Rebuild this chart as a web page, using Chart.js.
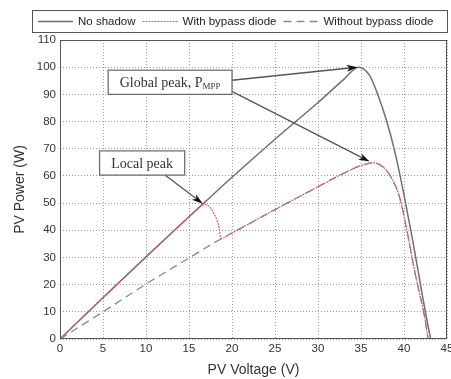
<!DOCTYPE html>
<html>
<head>
<meta charset="utf-8">
<script src="https://cdn.jsdelivr.net/npm/chart.js@4.4.0/dist/chart.umd.min.js"></script>
<style>
  html, body { margin: 0; padding: 0; background: #fff; }
</style>
</head>
<body>
<canvas id="pv" width="451" height="379"></canvas>
<script>
// P-V curves (voltage in V, power in W)
var noShadowV = [0, 5, 10, 15, 17, 20, 25, 30, 33, 34.7, 36, 37, 38, 39, 40, 41, 42, 42.6, 43.1];
var noShadowP = [0, 15.2, 30.2, 45, 50.8, 59.5, 73.5, 87, 95.5, 100, 97, 89.5, 80, 68, 53, 36.5, 18.5, 8, 0];

var bypassV = [0, 5, 10, 15, 16, 16.7, 17.4, 18, 18.5, 18.7, 20, 25, 30, 33, 35, 36.5, 37.5, 38.5, 39.5, 40.3, 41.3, 42.4, 42.8];
var bypassP = [0, 15.3, 30.2, 45, 47.8, 49.5, 48.6, 45.5, 41, 37, 39, 47.6, 56, 61, 63.8, 64.8, 63.5, 59.5, 52, 40.5, 24, 8, 0];

var noBypassV = [0, 5, 10, 15, 18.7, 20, 25, 30, 33, 35, 36.5, 37.5, 38.5, 39.5, 40.3, 41.3, 42.4, 42.8];
var noBypassP = [0, 10, 20.2, 29.8, 36.8, 39, 47.6, 56, 61, 63.8, 64.8, 63.5, 59.5, 52, 40.5, 24, 8, 0];

var seriesNames = ['No shadow', 'With bypass diode', 'Without bypass diode'];

// annotation boxes and arrows, in data units
var labelBoxes = [
    {text: 'Global peak, P', sub: 'MPP', x0: 5.6, y0: 98.9, x1: 20, y1: 90},
    {text: 'Local peak', sub: '', x0: 4.6, y0: 69.2, x1: 14.5, y1: 60.3}
];
var arrows = [
    {from: [12.2, 60.3], to: [16.6, 49.8]},
    {from: [20, 95.2], to: [34.6, 100]},
    {from: [20.1, 90.9], to: [36, 65.3]}
];

function pairs(xs, ys) {
    return xs.map(function (x, i) { return {x: x, y: ys[i]}; });
}

var framePlugin = {
    id: 'frames',
    afterDatasetsDraw: function (chart) {
        var ctx = chart.ctx, xs = chart.scales.x, ys = chart.scales.y, a = chart.chartArea;
        ctx.save();
        // plot box
        ctx.strokeStyle = '#555';
        ctx.lineWidth = 1;
        ctx.strokeRect(a.left + 0.5, a.top + 0.5, a.right - a.left - 1, a.bottom - a.top - 1);

        // arrows
        arrows.forEach(function (ar) {
            var x1 = xs.getPixelForValue(ar.from[0]), y1 = ys.getPixelForValue(ar.from[1]);
            var x2 = xs.getPixelForValue(ar.to[0]), y2 = ys.getPixelForValue(ar.to[1]);
            var c = Math.cos(Math.atan2(y2 - y1, x2 - x1)), s = Math.sin(Math.atan2(y2 - y1, x2 - x1));
            ctx.strokeStyle = '#555';
            ctx.lineWidth = 1.3;
            ctx.beginPath();
            ctx.moveTo(x1, y1);
            ctx.lineTo(x2 - 8 * c, y2 - 8 * s);
            ctx.stroke();
            ctx.fillStyle = '#111';
            ctx.beginPath();
            ctx.moveTo(x2, y2);
            ctx.lineTo(x2 - 11 * c + 3.5 * s, y2 - 11 * s - 3.5 * c);
            ctx.lineTo(x2 - 8 * c, y2 - 8 * s);
            ctx.lineTo(x2 - 11 * c - 3.5 * s, y2 - 11 * s + 3.5 * c);
            ctx.closePath();
            ctx.fill();
        });

        // label boxes
        labelBoxes.forEach(function (b) {
            var l = xs.getPixelForValue(b.x0), t = ys.getPixelForValue(b.y0);
            var r = xs.getPixelForValue(b.x1), btm = ys.getPixelForValue(b.y1);
            ctx.fillStyle = '#fff';
            ctx.fillRect(l, t, r - l, btm - t);
            ctx.strokeStyle = '#666';
            ctx.lineWidth = 1.2;
            ctx.strokeRect(l, t, r - l, btm - t);
            ctx.fillStyle = '#333';
            ctx.font = '14px "Liberation Serif", serif';
            var w1 = ctx.measureText(b.text).width;
            ctx.font = '9px "Liberation Serif", serif';
            var w2 = b.sub ? ctx.measureText(b.sub).width : 0;
            var tx = (l + r) / 2 - (w1 + w2) / 2, ty = (t + btm) / 2 + 1;
            ctx.textBaseline = 'middle';
            ctx.font = '14px "Liberation Serif", serif';
            ctx.fillText(b.text, tx, ty);
            if (b.sub) {
                ctx.font = '9px "Liberation Serif", serif';
                ctx.fillText(b.sub, tx + w1, ty + 3);
            }
        });
        ctx.restore();
    },
    afterDraw: function (chart) {
        // framed legend above the plot, styles taken from the datasets
        var ctx = chart.ctx;
        ctx.save();
        ctx.strokeStyle = '#555';
        ctx.lineWidth = 1;
        ctx.strokeRect(32.5, 10.5, 415, 22);
        ctx.font = '11.5px "Liberation Sans", Arial, sans-serif';
        ctx.textBaseline = 'middle';
        var x = 38, y = 21.5;
        chart.data.datasets.forEach(function (ds, i) {
            ctx.strokeStyle = ds.borderColor;
            ctx.lineWidth = ds.borderWidth;
            ctx.setLineDash(ds.borderDash || []);
            ctx.beginPath();
            ctx.moveTo(x, y);
            ctx.lineTo(x + 35, y);
            ctx.stroke();
            ctx.setLineDash([]);
            ctx.fillStyle = '#222';
            ctx.fillText(ds.label, x + 40, y);
            x += 40 + ctx.measureText(ds.label).width + 7;
        });
        ctx.restore();
    }
};

var tickFont = {family: "'Liberation Sans Narrow', 'Liberation Sans', Arial, sans-serif", size: 11.5};
var titleFont = {family: "'Liberation Sans', Arial, sans-serif", size: 14};

new Chart(document.getElementById('pv'), {
    type: 'line',
    data: {
        datasets: [
            {
                label: seriesNames[0],
                data: pairs(noShadowV, noShadowP),
                borderColor: '#6f6f6f',
                borderWidth: 1.5,
                pointRadius: 0,
                order: 3,
                cubicInterpolationMode: 'monotone'
            },
            {
                label: seriesNames[1],
                data: pairs(bypassV, bypassP),
                borderColor: '#d65a68',
                borderWidth: 1.2,
                borderDash: [2, 1],
                pointRadius: 0,
                order: 1,
                cubicInterpolationMode: 'monotone'
            },
            {
                label: seriesNames[2],
                data: pairs(noBypassV, noBypassP),
                borderColor: '#7a86b2',
                borderWidth: 1.3,
                borderDash: [8, 5],
                pointRadius: 0,
                order: 2,
                cubicInterpolationMode: 'monotone'
            }
        ]
    },
    options: {
        responsive: false,
        animation: false,
        layout: {padding: {left: 2, right: 4, top: 40, bottom: 0}},
        plugins: {
            legend: {display: false},
            tooltip: {enabled: false}
        },
        scales: {
            x: {
                type: 'linear',
                min: 0,
                max: 45,
                ticks: {stepSize: 5, color: '#333', font: tickFont, padding: 3, maxRotation: 0},
                grid: {color: '#9a9a9a', drawTicks: false},
                border: {display: false, dash: [1, 2]},
                title: {display: true, text: 'PV Voltage (V)', color: '#333', font: titleFont, padding: {top: 4, bottom: 0}},
                afterFit: function (s) { s.height = 40; s.paddingRight = 0; }
            },
            y: {
                min: 0,
                max: 110,
                ticks: {stepSize: 10, color: '#333', font: tickFont, padding: 4},
                grid: {color: '#9a9a9a', drawTicks: false},
                border: {display: false, dash: [1, 2]},
                title: {display: true, text: 'PV Power (W)', color: '#333', font: titleFont, padding: {top: 10, bottom: 0}},
                afterFit: function (s) { s.width = 58; }
            }
        }
    },
    plugins: [framePlugin]
});
</script>
</body>
</html>
